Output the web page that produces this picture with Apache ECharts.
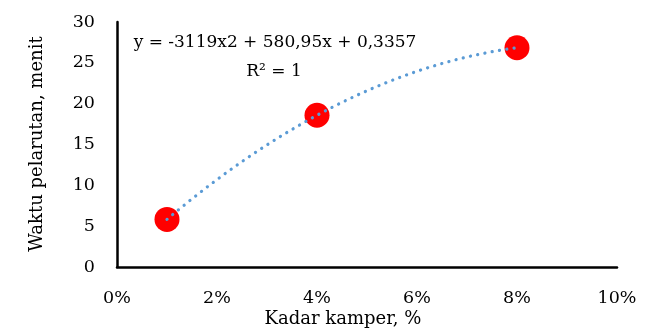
<!DOCTYPE html>
<html><head><meta charset="utf-8">
<script src="https://cdn.jsdelivr.net/npm/echarts@6/dist/echarts.min.js"></script>
<style>html,body{margin:0;padding:0;background:#fff}#c{width:649px;height:329px}</style>
</head><body><div id="c"></div>
<script>
// Data
const kadarKamper = [0.01, 0.04, 0.08];          // x, fraction (1%, 4%, 8%)
const waktuPelarutan = [5.83, 18.58, 26.85];      // y, minutes
const xTicks = [0, 0.02, 0.04, 0.06, 0.08, 0.10];
const yTicks = [0, 5, 10, 15, 20, 25, 30];
const equationText = 'y = -3119x2 + 580,95x + 0,3357';
const r2Text = 'R² = 1';
const xTitle = 'Kadar kamper, %';
const yTitle = 'Waktu pelarutan, menit';

// Polynomial (order 2) trendline fitted through the data (Lagrange form, exact for 3 points)
function trend(x) {
  let s = 0;
  for (let i = 0; i < kadarKamper.length; i++) {
    let l = 1;
    for (let j = 0; j < kadarKamper.length; j++) {
      if (j !== i) l *= (x - kadarKamper[j]) / (kadarKamper[i] - kadarKamper[j]);
    }
    s += waktuPelarutan[i] * l;
  }
  return s;
}
const trendData = [];
const x0 = kadarKamper[0], x1 = kadarKamper[kadarKamper.length - 1];
for (let k = 0; k <= 70; k++) {
  const x = x0 + (x1 - x0) * k / 70;
  trendData.push([x, trend(x)]);
}

const FONT = 'DejaVu Serif';
const chart = echarts.init(document.getElementById('c'), null, {renderer: 'canvas'});
chart.setOption({
  animation: false,
  grid: {left: 117, right: 32, top: 22, bottom: 62},
  xAxis: {
    type: 'value', min: xTicks[0], max: xTicks[xTicks.length - 1], interval: 0.02,
    axisLine: {lineStyle: {color: '#000', width: 2.5}},
    axisTick: {show: false}, splitLine: {show: false},
    axisLabel: {margin: 22, color: '#000', fontFamily: FONT, fontSize: 17.5,
      formatter: v => Math.round(v * 100) + '%'}
  },
  yAxis: {
    type: 'value', min: yTicks[0], max: yTicks[yTicks.length - 1], interval: 5,
    axisLine: {show: true, lineStyle: {color: '#000', width: 2.5}},
    axisTick: {show: false}, splitLine: {show: false},
    axisLabel: {margin: 22, color: '#000', fontFamily: FONT, fontSize: 17.5}
  },
  series: [
    {type: 'scatter', data: kadarKamper.map((x, i) => [x, waktuPelarutan[i]]),
     symbolSize: 25, itemStyle: {color: '#FF0000', opacity: 1}, z: 2},
    {type: 'line', data: trendData, showSymbol: false, symbol: 'none', z: 3,
     lineStyle: {color: '#5B9BD5', width: 3.2, type: [0.1, 7.3], cap: 'round'}}
  ],
  graphic: [
    {type: 'text', x: 275, y: 43, style: {text: equationText, fontFamily: FONT, fontSize: 17, fill: '#000', align: 'center', verticalAlign: 'middle'}},
    {type: 'text', x: 274, y: 72, style: {text: r2Text, fontFamily: FONT, fontSize: 17, fill: '#000', align: 'center', verticalAlign: 'middle'}},
    {type: 'text', x: 343, y: 319, style: {text: xTitle, fontFamily: FONT, fontSize: 18, fill: '#000', align: 'center', verticalAlign: 'middle'}},
    {type: 'text', x: 37, y: 144, rotation: Math.PI / 2, style: {text: yTitle, fontFamily: FONT, fontSize: 18, fill: '#000', align: 'center', verticalAlign: 'middle'}}
  ]
});
</script></body></html>
